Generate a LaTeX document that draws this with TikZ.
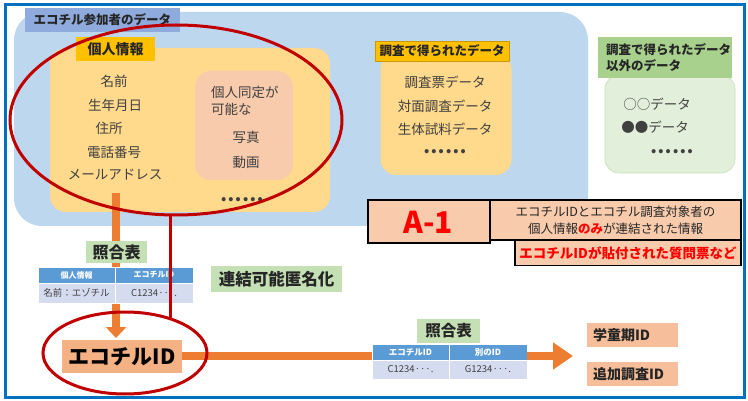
\documentclass[tikz,border=0pt]{standalone}
\usepackage{fontspec}
\setmainfont{Noto Sans CJK JP}
\usetikzlibrary{arrows.meta,shapes.geometric}
\definecolor{frameblue}{HTML}{0070C0}
\definecolor{areablue}{HTML}{BDD7EE}
\definecolor{titleblue}{HTML}{8FAADC}
\definecolor{gold}{HTML}{FFC000}
\definecolor{paleorange}{HTML}{FFD98C}
\definecolor{pink}{HTML}{F8CBAD}
\definecolor{salmon}{HTML}{F4B183}
\definecolor{idbox}{HTML}{F6BE9A}
\definecolor{labgreen}{HTML}{A9D18E}
\definecolor{palegreen}{HTML}{C5E0B4}
\definecolor{lightgreen}{HTML}{E2EFDA}
\definecolor{hdrblue}{HTML}{5B9BD5}
\definecolor{rowblue}{HTML}{D6DCF0}
\definecolor{ringred}{HTML}{C00000}
\definecolor{arrorange}{HTML}{ED7D31}
\definecolor{txt}{HTML}{404040}
\definecolor{dtxt}{HTML}{262626}
\newcommand\fsz[2]{\fontsize{#1}{#2}\selectfont}
\begin{document}
\begin{tikzpicture}[x=1pt,y=-1pt,
  box/.style={inner sep=0, outer sep=0, anchor=center},
  item/.style={inner sep=0, text=txt, font=\fsz{13.5}{16}},
  dots/.style={inner sep=0, text=txt, font=\bfseries\fsz{19}{20}},
  lab/.style={box, text=dtxt, font=\bfseries\fsz{12.5}{16}},
  cellh/.style={box, fill=hdrblue, draw=white, line width=0.8, text=white, font=\bfseries\fsz{8}{10}},
  cellr/.style={box, fill=rowblue, draw=white, line width=0.8, text=txt, font=\fsz{9.5}{11}},
  ring/.style={draw=ringred, line width=3, ellipse, inner sep=0},
  redline/.style={draw=ringred, line width=3},
  orangeshaft/.style={draw=arrorange, line width=8},
  orangearrow/.style={draw=arrorange, line width=8, -{Triangle[width=20,length=11]}},
  bigarrow/.style={draw=arrorange, line width=8, -{Triangle[width=26,length=20]}},
  blackbox/.style={box, fill=pink, draw=black, line width=1.8}
]
\useasboundingbox (0,0) rectangle (748,401);
\fill[white] (0,0) rectangle (748,401);
\draw[frameblue, line width=3] (5,5) rectangle (744,397);

% big light blue area
\fill[areablue, rounded corners=28] (14,12) rectangle (588,226);
\node[lab, fill=titleblue, minimum width=155, minimum height=24] (title) at (102.5,20) {エコチル参加者のデータ};

% personal info
\node[box, fill=paleorange, rounded corners=16, minimum width=280, minimum height=164] (pbox) at (190,130) {};
\node[lab, fill=gold, minimum width=79, minimum height=24, font=\bfseries\fsz{14}{16}] (plab) at (115.5,49) {個人情報};
\node[item] (n1) at (114,81) {名前};
\node[item] (n2) at (115,105) {生年月日};
\node[item] (n3) at (109,128) {住所};
\node[item] (n4) at (114,152) {電話番号};
\node[item] (n5) at (115,175) {メールアドレス};
\node[box, fill=pink, rounded corners=16, minimum width=98, minimum height=109] (pink) at (244,125.5) {};
\node[item, anchor=west] (p1) at (211,92) {個人同定が};
\node[item, anchor=west] (p2) at (211,109) {可能な};
\node[item] (p3) at (246,137) {写真};
\node[item] (p4) at (246,162) {動画};
\node[dots] (pd) at (242,200) {……};

% survey data
\node[box, fill=paleorange, rounded corners=16, minimum width=131, minimum height=122] (sbox) at (446,114) {};
\node[lab, fill=gold, draw=gold!80!black, line width=0.4, minimum width=134, minimum height=20] (slab) at (442,51) {調査で得られたデータ};
\node[item] (s1) at (445,82) {調査票データ};
\node[item] (s2) at (445,106) {対面調査データ};
\node[item] (s3) at (445,129) {生体試料データ};
\node[dots] (sd) at (445,152) {……};

% other data
\node[box, fill=lightgreen, draw=palegreen, line width=0.6, rounded corners=14, minimum width=130, minimum height=98] (obox) at (670,124) {};
\node[box, fill=labgreen, minimum width=134, minimum height=41] (olab) at (665,57.5) {};
\node[lab, anchor=west] (ol1) at (606,50) {調査で得られたデータ};
\node[lab, anchor=west] (ol2) at (606,66) {以外のデータ};
\node[item] (o1) at (657,104) {○○データ};
\node[item] (o2) at (655,127) {●●データ};
\node[dots] (od) at (672,152) {……};

% A-1 area
\node[blackbox, minimum width=122, minimum height=43] (a1) at (429,221.5) {};
\node[box, text=red, font=\bfseries\fsz{30}{32}] (a1t) at (428,222) {A-1};
\node[blackbox, minimum width=251, minimum height=40, align=center, text=dtxt, font=\fsz{12.5}{17}] (desc) at (615.5,220)
  {エコチルIDとエコチル調査対象者の\\個人情報{\bfseries\color{red}のみ}が連結された情報};
\node[blackbox, minimum width=226, minimum height=25, text=red, font=\bfseries\fsz{13.5}{16}] (note) at (628,253)
  {エコチルIDが貼付された質問票など};

% vertical arrow
\coordinate (vstart) at (116,193);
\coordinate (vend) at (116,338);
\draw[orangearrow] (vstart) -- (vend);

% table 1
\node[lab, fill=palegreen, minimum width=61, minimum height=22, font=\bfseries\fsz{16}{18}] (cmp1) at (116.5,252.5) {照合表};
\node[cellh, minimum width=77, minimum height=16] (h11) at (76.5,275) {個人情報};
\node[cellh, minimum width=78, minimum height=16] (h12) at (154,275) {エコチルID};
\node[cellr, minimum width=77, minimum height=20] (r11) at (76.5,293) {名前：エゾチル};
\node[cellr, minimum width=78, minimum height=20] (r12) at (154,293) {C1234···.};

\node[lab, fill=palegreen, minimum width=131, minimum height=26, font=\bfseries\fsz{16.5}{18}] (anon) at (276.5,279) {連結可能匿名化};

% EcoChil ID
\node[box, fill=salmon, minimum width=120, minimum height=33, text=black, font=\bfseries\fsz{21}{24}] (eid) at (122,356.5) {エコチルID};

% table 2
\node[lab, fill=palegreen, minimum width=63, minimum height=24, font=\bfseries\fsz{15.5}{18}] (cmp2) at (448.5,331) {照合表};
\node[cellh, minimum width=77, minimum height=16, font=\bfseries\fsz{8.5}{10}] (h21) at (410.5,352) {エコチルID};
\node[cellh, minimum width=78, minimum height=16, font=\bfseries\fsz{8.5}{10}] (h22) at (488,352) {別のID};
\node[cellr, minimum width=77, minimum height=19] (r21) at (410.5,369.5) {C1234···.};
\node[cellr, minimum width=78, minimum height=19] (r22) at (488,369.5) {G1234···.};

\coordinate (t2in) at (372,356);
\coordinate (t2out) at (527,356);
\coordinate (arrtip) at (573,356);
\draw[orangeshaft] (eid.east |- t2in) -- (t2in);
\draw[bigarrow] (t2out) -- (arrtip);

\node[box, fill=idbox, minimum width=91, minimum height=24] (id1) at (632.5,334.5) {};
\node[lab, anchor=west, font=\bfseries\fsz{14}{16}] (id1t) at (593,335) {学童期ID};
\node[box, fill=idbox, minimum width=91, minimum height=24] (id2) at (632.5,373.5) {};
\node[lab, anchor=west, font=\bfseries\fsz{14}{16}] (id2t) at (593,374) {追加調査ID};

% red rings
\node[ring, minimum width=332, minimum height=190] (ring1) at (176,120) {};
\node[ring, minimum width=164, minimum height=82] (ring2) at (125,353) {};
\coordinate (rtop) at (170,214);
\coordinate (rbot) at (170,319);
\draw[redline] (rtop) -- (rbot);
\end{tikzpicture}
\end{document}
